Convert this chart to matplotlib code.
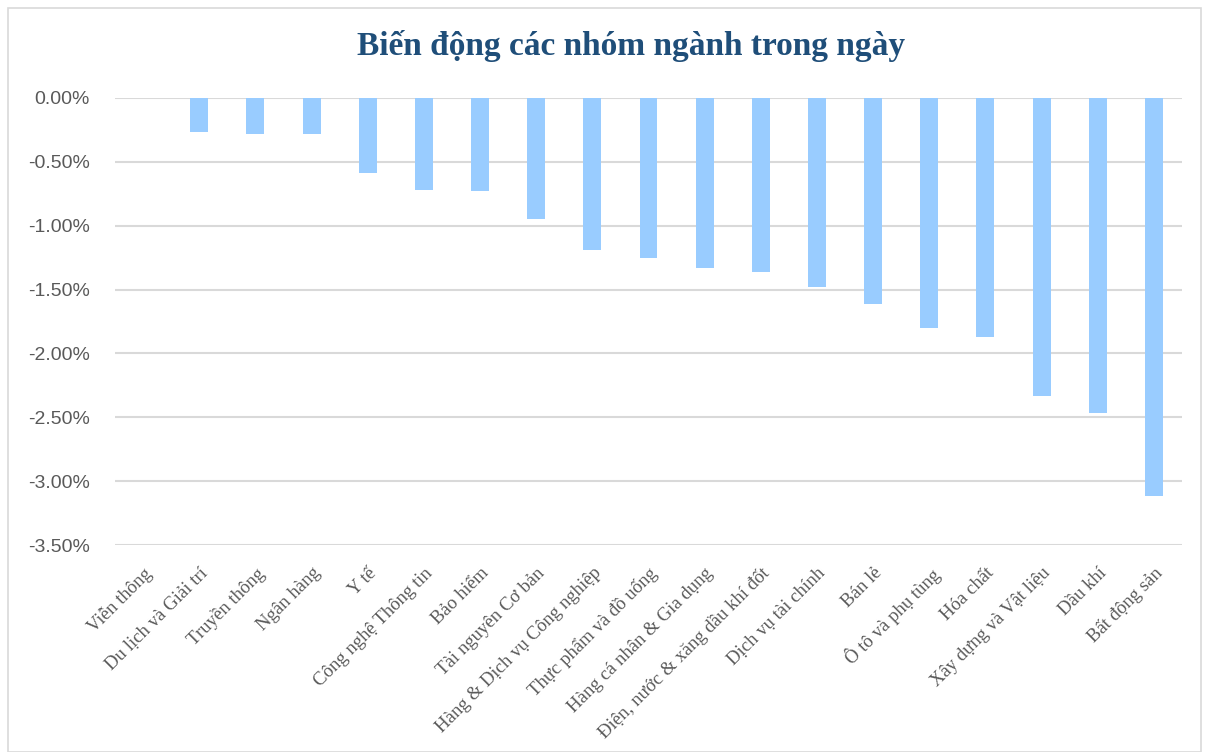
import matplotlib
matplotlib.use("Agg")
import matplotlib.pyplot as plt
from matplotlib.ticker import FuncFormatter, MultipleLocator
from matplotlib.patches import Rectangle

categories = ["Viễn thông", "Du lịch và Giải trí", "Truyền thông", "Ngân hàng", "Y tế",
              "Công nghệ Thông tin", "Bảo hiểm", "Tài nguyên Cơ bản",
              "Hàng & Dịch vụ Công nghiệp", "Thực phẩm và đồ uống",
              "Hàng cá nhân & Gia dụng", "Điện, nước & xăng dầu khí đốt",
              "Dịch vụ tài chính", "Bán lẻ", "Ô tô và phụ tùng", "Hóa chất",
              "Xây dựng và Vật liệu", "Dầu khí", "Bất động sản"]
values = [0.0, -0.27, -0.28, -0.28, -0.59, -0.72, -0.73, -0.95, -1.19, -1.25,
          -1.33, -1.36, -1.48, -1.61, -1.80, -1.87, -2.33, -2.47, -3.12]
title = "Biến động các nhóm ngành trong ngày"

W, H = 1205, 752
fig = plt.figure(figsize=(W / 100, H / 100), dpi=100)
fig.patches.append(Rectangle((8 / W, 0), (W - 12) / W, (H - 8) / H,
                             transform=fig.transFigure, fill=False,
                             edgecolor="#D9D9D9", linewidth=1.2))

left, right, top, bottom = 115 / W, 1182 / W, 1 - 98 / H, 1 - 545 / H
ax = fig.add_axes([left, bottom, right - left, top - bottom])

x = list(range(len(categories)))
ax.bar(x, values, width=0.32, color="#99CCFF", zorder=3)
ax.set_xlim(-0.5, len(categories) - 0.5)
ax.set_ylim(-3.5, 0)
ax.yaxis.set_major_locator(MultipleLocator(0.5))
ax.yaxis.set_major_formatter(FuncFormatter(lambda v, p: f"{v:.2f}%"))
ax.grid(axis="y", color="#D9D9D9", linewidth=1.5, zorder=0)
ax.set_axisbelow(True)
for s in ax.spines.values():
    s.set_visible(False)
ax.tick_params(axis="both", length=0)
ax.tick_params(axis="y", pad=18, labelsize=14, labelcolor="#595959")
for lab in ax.get_yticklabels():
    lab.set_family(["Liberation Sans", "DejaVu Sans"])

ax.set_xticks(x)
ax.set_xticklabels(categories, rotation=45, ha="right", rotation_mode="anchor",
                   family=["Liberation Serif", "DejaVu Serif"], fontsize=13.5,
                   color="#595959")
ax.tick_params(axis="x", pad=14)

fig.text(631 / W, 1 - 46 / H, title, ha="center", va="center",
         family=["Liberation Serif", "DejaVu Serif"], fontweight="bold",
         fontsize=24, color="#1F4E79")

fig.savefig("out.png", dpi=100)
